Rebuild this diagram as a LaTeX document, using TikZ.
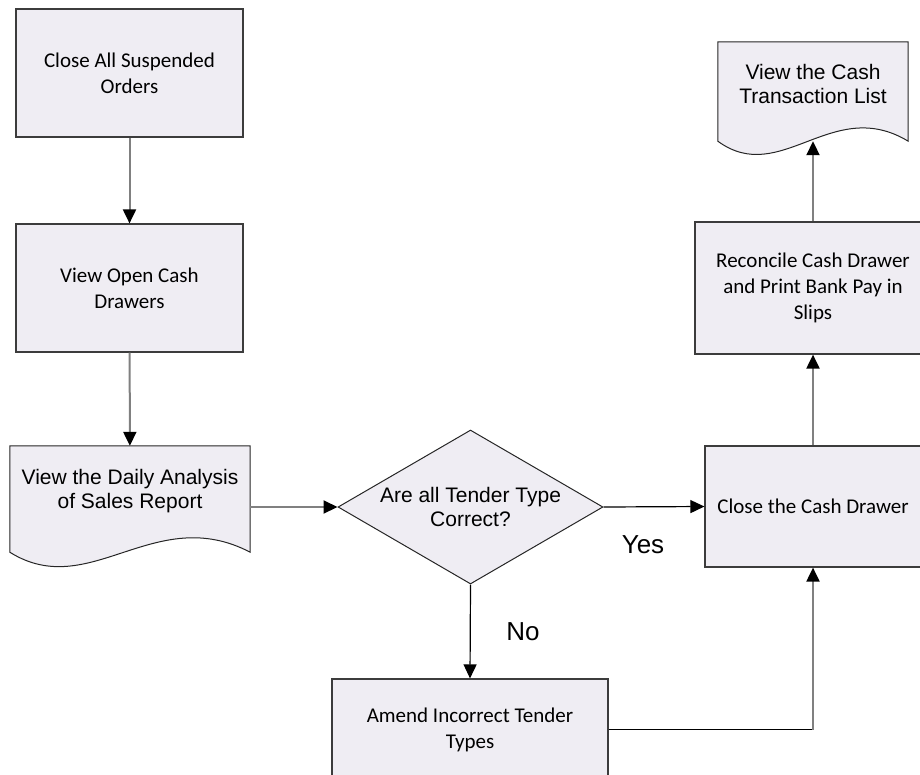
\documentclass[tikz,border=0pt]{standalone}
\usepackage{fontspec}
\setmainfont{Carlito}
\newfontfamily\arialfont{Liberation Sans}
\usetikzlibrary{shapes.geometric,arrows.meta,backgrounds}
\definecolor{boxfill}{RGB}{239,237,243}
\definecolor{linegray}{RGB}{128,128,128}
\definecolor{edgegray}{RGB}{60,60,60}
\tikzset{
  process/.style={draw=edgegray,fill=boxfill,line width=1.2pt,align=center,
    font=\fontsize{21}{26}\selectfont},
  doctext/.style={align=center,font=\arialfont\fontsize{21}{24}\selectfont},
  docshape/.style={draw=black!85,fill=boxfill,line width=1pt},
  decision/.style={diamond,draw=black!85,fill=boxfill,line width=1pt,aspect=1.72,
    inner sep=0pt,align=center,font=\arialfont\fontsize{21}{24}\selectfont},
  flow/.style={draw=linegray,line width=2pt,-{Triangle[length=14pt,width=13pt,color=black]}},
  flowdark/.style={draw=black,line width=1.2pt,-{Triangle[length=14pt,width=13pt]}},
  answer/.style={font=\arialfont\fontsize{26}{30}\selectfont}
}
\begin{document}
\begin{tikzpicture}[x=1pt,y=-1pt]
\clip (0,0) rectangle (920,774);
% left column
\node[process,minimum width=227pt,minimum height=128pt] (orders) at (129.5,73) {Close All Suspended\\Orders};
\node[process,minimum width=227pt,minimum height=128pt] (drawers) at (129.5,288) {View Open Cash\\Drawers};
\node[doctext,minimum width=240pt,minimum height=106pt,text depth=20pt] (daily) at (130,499) {View the Daily Analysis\\of Sales Report};
% decision and correction
\node[decision,minimum width=265pt,minimum height=154pt] (dec) at (470.5,507) {Are all Tender Type\\Correct?};
\node[process,minimum width=276pt,minimum height=101pt] (amend) at (470,729.5) {Amend Incorrect Tender\\Types};
% right column
\node[process,minimum width=216pt,minimum height=121pt] (close) at (813,506.5) {Close the Cash Drawer};
\node[process,minimum width=236pt,minimum height=132pt] (reconcile) at (813,288) {Reconcile Cash Drawer\\and Print Bank Pay in\\Slips};
\node[doctext,minimum width=190pt,minimum height=99pt,text depth=15pt] (viewlist) at (813,91.5) {View the Cash\\Transaction List};
\node[answer] (yes) at (643,545) {Yes};
\node[answer] (no) at (523,632) {No};
% document outlines with wavy bottom
\begin{scope}[on background layer]
\draw[docshape] (daily.north west) -- (daily.north east) -- (daily.south east)
  .. controls +(-96,-50) and +(80,50) .. (daily.south west) -- cycle;
\draw[docshape] (viewlist.north west) -- (viewlist.north east) -- (viewlist.south east)
  .. controls +(-76,-46) and +(63,46) .. (viewlist.south west) -- cycle;
\end{scope}
% connectors
\draw[flow] (orders) -- (drawers);
\draw[flow] (drawers) -- (daily);
\draw[flow] (dec.west -| daily.east) -- (dec.west);
\draw[flowdark] (dec.east) -- (close.west);
\draw[flowdark] (dec.south) -- (amend.north);
\draw[black,line width=1.2pt] (amend.east) -- (amend.east -| close.south);
\draw[flow] (amend.east -| close.south) -- (close.south);
\draw[flow] (close) -- (reconcile);
\draw[flow] (reconcile) -- (viewlist);
\end{tikzpicture}
\end{document}
